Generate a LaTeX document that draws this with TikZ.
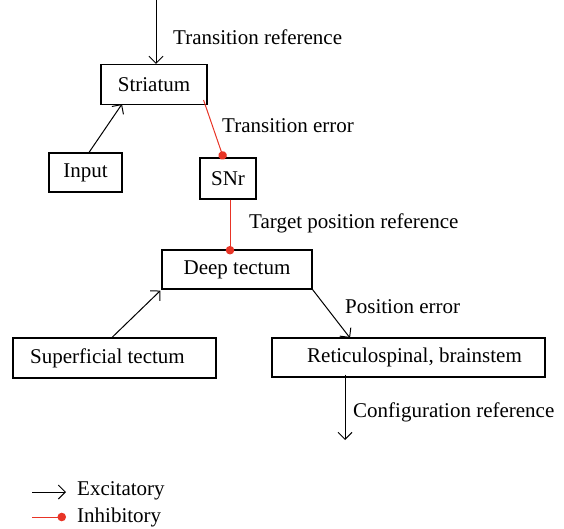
\documentclass[tikz,border=0pt]{standalone}
\usepackage{fontspec}
\setmainfont{Liberation Serif}
\usetikzlibrary{arrows.meta}
\definecolor{inhibred}{RGB}{232,52,38}
\begin{document}
\begin{tikzpicture}[x=1pt,y=-1pt,
  font=\fontsize{21}{25}\selectfont,
  box/.style={draw, line width=1.1pt, inner sep=0pt},
  exc/.style={line width=1pt, -{Straight Barb[length=7pt,width=14pt,line width=1pt]}},
  inh/.style={line width=1pt, draw=inhibred, -{Circle[length=8.5pt,fill=inhibred,color=inhibred]}},
  lbl/.style={anchor=west, inner sep=0pt}]
\useasboundingbox (0,0) rectangle (564,529);

% boxes
\node[box, minimum width=106pt, minimum height=40pt] (striatum) at (154,84.5) {Striatum};
\node[box, minimum width=73pt, minimum height=39pt] (input) at (85.5,172.5) {Input};
\node[box, minimum width=56pt, minimum height=41pt] (snr) at (228,178.5) {SNr};
\node[box, minimum width=150pt, minimum height=39pt] (deep) at (237,269.5) {Deep tectum};
\node[box, minimum width=203pt, minimum height=40pt] (sup) at (114.5,358) {Superficial tectum\rule{14pt}{0pt}};
\node[box, minimum width=273pt, minimum height=39pt] (reti) at (408.5,357.5) {\rule{12pt}{0pt}Reticulospinal, brainstem};

% free ends
\coordinate (trtop) at (156,0);
\coordinate (cfgend) at (345,440);

% connectors
\draw[exc] (trtop) -- (trtop |- striatum.north);
\draw[exc] ([xshift=3.5pt]input.north) -- ([xshift=-32pt,yshift=1pt]striatum.south);
\draw[inh] ([xshift=-4pt,yshift=5pt]striatum.south east) -- ([xshift=-4pt,yshift=-2pt]snr.north);
\draw[inh] ([xshift=2pt]snr.south) -- ([xshift=-7pt,yshift=-5pt]deep.north);
\draw[exc] ([xshift=-2.5pt]sup.north) -- ([xshift=-1pt,yshift=-1pt]deep.south west);
\draw[exc] (deep.south east) -- ([xshift=-58.5pt,yshift=-0.5pt]reti.north);
\draw[exc] ([yshift=3pt]reti.south -| cfgend) -- (cfgend);

% connector labels
\node[lbl] (ltr) at (173,37) {Transition reference};
\node[lbl] (lte) at (222,126) {Transition error};
\node[lbl] (ltp) at (249,223) {Target position reference};
\node[lbl] (lpe) at (345,307) {Position error};
\node[lbl] (lcr) at (353,412) {Configuration reference};

% legend
\coordinate (ea) at (32,492);
\coordinate (eb) at (66,492);
\coordinate (ia) at (32,517);
\coordinate (ib) at (66,517);
\draw[exc] (ea) -- (eb);
\draw[inh] (ia) -- (ib);
\node[lbl] (lex) at (77,491) {Excitatory};
\node[lbl] (lin) at (77,517) {Inhibitory};
\end{tikzpicture}
\end{document}
